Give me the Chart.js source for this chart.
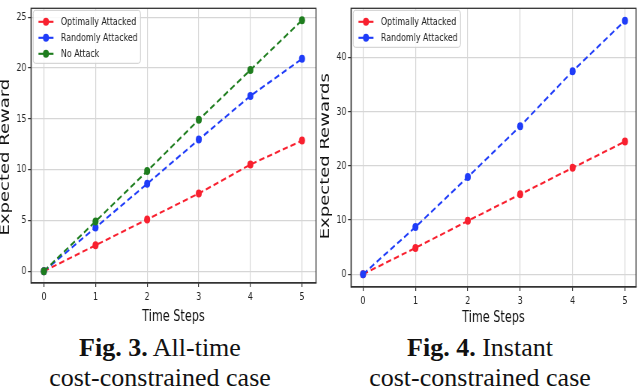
<!DOCTYPE html>
<html>
<head>
<meta charset="utf-8">
<script src="https://cdn.jsdelivr.net/npm/chart.js@4.4.0/dist/chart.umd.min.js"></script>
<style>
  body { margin: 0; width: 640px; height: 392px; background: #fff; overflow: hidden; position: relative; }
  /* the figure was squeezed sideways, so each panel is drawn wide and compressed */
  .panel { position: absolute; top: 0; width: 427px; height: 330px; transform: scaleX(0.75); transform-origin: 0 0; }
  .cap { position: absolute; width: 320px; text-align: center; font-family: "Liberation Serif", "Times New Roman", serif;
         font-size: 26px; line-height: 30px; color: #111; }
</style>
</head>
<body>
<div class="panel" style="left:0"><canvas id="fig3" width="427" height="330"></canvas></div>
<div class="panel" style="left:320px"><canvas id="fig4" width="427" height="330"></canvas></div>
<div class="cap" style="left:0;top:333px"><b>Fig. 3.</b> All-time<br>cost-constrained case</div>
<div class="cap" style="left:320px;top:333px"><b>Fig. 4.</b> Instant<br>cost-constrained case</div>

<script>
const timeSteps = [0, 1, 2, 3, 4, 5];

// Fig. 3 - all-time cost constraint
const allTimeOptimal = [0, 2.55, 5.1, 7.65, 10.5, 12.85];
const allTimeRandom = [0, 4.3, 8.6, 12.95, 17.25, 20.9];
const allTimeNoAttack = [0, 4.9, 9.85, 14.9, 19.8, 24.7];
const fig3YTicks = [0, 5, 10, 15, 20, 25];

// Fig. 4 - instant cost constraint
const instantOptimal = [0, 4.85, 9.85, 14.75, 19.65, 24.5];
const instantRandom = [0, 8.7, 17.95, 27.35, 37.5, 46.85];
const fig4YTicks = [0, 10, 20, 30, 40];

const RED = "#f8202f";
const BLUE = "#1f3cf8";
const GREEN = "#1e7d1e";
const FONT = "DejaVu Sans";

Chart.defaults.font.family = FONT;

// matplotlib style frame: top and right spines
const frameBox = {
  id: "frameBox",
  beforeDatasetsDraw(chart) {
    const { ctx, chartArea: a } = chart;
    ctx.save();
    ctx.strokeStyle = "#333";
    ctx.lineWidth = 1.3;
    ctx.strokeRect(a.left, a.top, a.right - a.left, a.bottom - a.top);
    ctx.restore();
  },
};

// legend box drawn inside the plot, upper left
const insideLegend = {
  id: "insideLegend",
  afterDatasetsDraw(chart) {
    const { ctx, chartArea: a } = chart;
    const sets = chart.data.datasets;
    const x0 = a.left + 3;
    const y0 = a.top + 2;
    const rowH = 16;
    const h = 11.5 + rowH * (sets.length - 1) + 9.5;
    ctx.save();
    ctx.fillStyle = "rgba(255,255,255,0.85)";
    ctx.strokeStyle = "#cccccc";
    ctx.lineWidth = 1;
    ctx.beginPath();
    ctx.roundRect(x0, y0, 143, h, 3);
    ctx.fill();
    ctx.stroke();
    ctx.font = `10.5px "${FONT}"`;
    ctx.textBaseline = "middle";
    sets.forEach((ds, i) => {
      const y = y0 + 11.5 + rowH * i;
      ctx.strokeStyle = ds.borderColor;
      ctx.lineWidth = ds.borderWidth;
      ctx.beginPath();
      ctx.moveTo(x0 + 7, y);
      ctx.lineTo(x0 + 27, y);
      ctx.stroke();
      ctx.fillStyle = ds.borderColor;
      ctx.beginPath();
      ctx.arc(x0 + 17, y, ds.pointRadius, 0, Math.PI * 2);
      ctx.fill();
      ctx.fillStyle = "#222";
      ctx.fillText(ds.label, x0 + 37, y + 0.5);
    });
    ctx.restore();
  },
};

function series(label, values, color, order) {
  return {
    label,
    data: timeSteps.map((t, i) => ({ x: t, y: values[i] })),
    borderColor: color,
    backgroundColor: color,
    borderDash: [7, 4],
    borderWidth: 2.1,
    pointRadius: 4,
    pointHoverRadius: 4,
    pointBorderWidth: 0,
    order,
  };
}

function renderPanel(id, datasets, yTicks, xRange, yRange, yTitle, frame) {
  const canvasH = 330;
  const grid = { color: "#d6d6d6", lineWidth: 1.2, tickColor: "#333", tickLength: 4 };
  const border = { color: "#333", width: 1.3 };
  const tickFont = { family: FONT, size: 10.5 };

  new Chart(document.getElementById(id), {
    type: "line",
    data: { datasets },
    options: {
      responsive: false,
      animation: false,
      events: [],
      layout: { padding: { top: frame.top, right: 427 - frame.right, left: 0, bottom: 0 } },
      plugins: { legend: { display: false }, tooltip: { enabled: false } },
      scales: {
        x: {
          type: "linear",
          min: xRange[0],
          max: xRange[1],
          afterBuildTicks: (s) => { s.ticks = timeSteps.map((v) => ({ value: v })); },
          afterFit: (s) => { s.height = canvasH - frame.bottom; },
          grid,
          border,
          ticks: { font: tickFont, color: "#222", padding: 4, maxRotation: 0 },
          title: {
            display: true,
            text: "Time Steps",
            color: "#111",
            font: { family: FONT, size: 15, lineHeight: 1.2 },
            padding: { top: 0, bottom: frame.titleGap },
          },
        },
        y: {
          type: "linear",
          min: yRange[0],
          max: yRange[1],
          afterBuildTicks: (s) => { s.ticks = yTicks.map((v) => ({ value: v })); },
          afterFit: (s) => { s.width = frame.left; },
          grid,
          border,
          ticks: { font: tickFont, color: "#222", padding: 2 },
          title: {
            display: true,
            // trailing spaces push the label a little below the axis centre, as in the figure
            text: yTitle + " ".repeat(frame.titleShift),
            color: "#111",
            font: { family: FONT, size: 18, lineHeight: 0.85 },
            padding: 0,
          },
        },
      },
    },
    plugins: [frameBox, insideLegend],
  });
}

renderPanel(
  "fig3",
  [
    series("Optimally Attacked", allTimeOptimal, RED, 2),
    series("Randomly Attacked", allTimeRandom, BLUE, 1),
    series("No Attack", allTimeNoAttack, GREEN, 0),
  ],
  fig3YTicks,
  [-0.25, 5.27],
  [-1.16, 25.87],
  "Expected Reward",
  { left: 41.3, right: 421.3, top: 3, bottom: 283, titleGap: 3.5, titleShift: 4 }
);

renderPanel(
  "fig4",
  [
    series("Optimally Attacked", instantOptimal, RED, 1),
    series("Randomly Attacked", instantRandom, BLUE, 0),
  ],
  fig4YTicks,
  [-0.23, 5.21],
  [-2.37, 49.13],
  "Expected Rewards",
  { left: 41.3, right: 421.3, top: 5, bottom: 287, titleGap: 3, titleShift: 3 }
);
</script>
</body>
</html>
